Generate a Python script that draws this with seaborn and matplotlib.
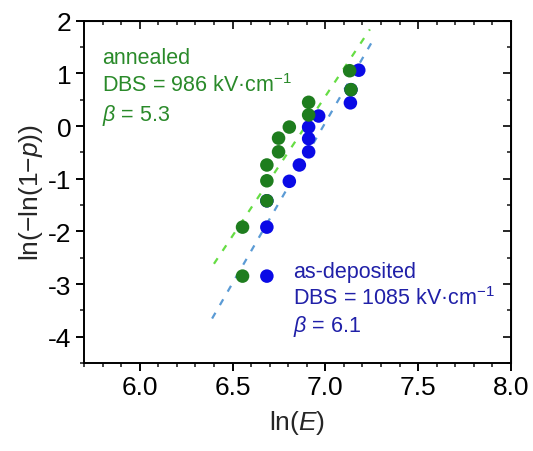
import numpy as np
import pandas as pd
import matplotlib
matplotlib.use("Agg")
import matplotlib.pyplot as plt
import seaborn as sns

# ---- data ----
ann_lnE = [6.554, 6.554, 6.685, 6.685, 6.685, 6.748, 6.748, 6.806, 6.910, 6.910, 7.138, 7.131]
ann_y   = [-2.85, -1.92, -1.42, -1.04, -0.74, -0.49, -0.23, -0.02, 0.21, 0.45, 0.69, 1.05]
dep_lnE = [6.685, 6.685, 6.685, 6.806, 6.860, 6.910, 6.910, 6.910, 6.964, 7.135, 7.138, 7.180]
dep_y   = [-2.85, -1.92, -1.42, -1.05, -0.74, -0.49, -0.24, -0.02, 0.19, 0.44, 0.69, 1.06]

ann_beta, ann_dbs = 5.3, 986
dep_beta, dep_dbs = 6.1, 1085
ann_fit_x = [6.40, 7.24]
dep_fit_x = [6.39, 7.26]

xticks = [6.0, 6.5, 7.0, 7.5, 8.0]
yticks = [-4, -3, -2, -1, 0, 1, 2]

sns.set_style("ticks")
plt.rcParams['font.family'] = ['Liberation Sans', 'DejaVu Sans']
plt.rcParams['mathtext.fontset'] = 'custom'
plt.rcParams['mathtext.rm'] = 'Liberation Sans'
plt.rcParams['mathtext.it'] = 'Liberation Sans:italic'
plt.rcParams['mathtext.bf'] = 'Liberation Sans:bold'

fig = plt.figure(figsize=(5.33, 4.52), dpi=100)
ax = fig.add_axes([0.1576, 0.1947, 0.8011, 0.7573])

green_pt = "#1e7d1e"
blue_pt = "#0a0ae6"
green_ln = "#66dd44"
blue_ln = "#5b9bd5"
green_txt = "#2a8a2a"
blue_txt = "#2020a8"

fa = pd.DataFrame({"x": ann_fit_x})
fa["y"] = ann_beta * (fa["x"] - np.log(ann_dbs))
fd = pd.DataFrame({"x": dep_fit_x})
fd["y"] = dep_beta * (fd["x"] - np.log(dep_dbs))

sns.lineplot(data=fd, x="x", y="y", ax=ax, color=blue_ln, lw=1.6,
             linestyle=(0, (3, 4)), zorder=1)
sns.lineplot(data=fa, x="x", y="y", ax=ax, color=green_ln, lw=1.6,
             linestyle=(0, (3, 4)), zorder=1)

dd = pd.DataFrame({"x": dep_lnE, "y": dep_y})
da = pd.DataFrame({"x": ann_lnE, "y": ann_y})
sns.scatterplot(data=dd, x="x", y="y", ax=ax, color=blue_pt, s=95,
                edgecolor="none", zorder=3)
sns.scatterplot(data=da, x="x", y="y", ax=ax, color=green_pt, s=95,
                edgecolor="none", zorder=4)

ax.set_xlim(5.7, 8.0)
ax.set_ylim(-4.5, 2.0)
ax.set_xticks(xticks)
ax.set_xticklabels([f"{v:.1f}" for v in xticks])
ax.set_yticks(yticks)
ax.set_yticklabels([str(v) for v in yticks])
ax.set_xticks(np.arange(5.7, 8.001, 0.1), minor=True)
ax.set_yticks(np.arange(-4.5, 2.001, 0.5), minor=True)

for sp in ax.spines.values():
    sp.set_linewidth(1.4)
    sp.set_color("black")
ax.tick_params(which='major', direction='out', length=6, width=1.4,
               labelsize=19, colors='black', pad=3)
ax.tick_params(which='minor', direction='out', length=3, width=1.2)

# mirrored inward ticks on top and right
top = ax.secondary_xaxis('top')
top.set_xticks(xticks)
top.set_xticks(np.arange(5.7, 8.001, 0.1), minor=True)
top.tick_params(which='major', direction='in', length=6, width=1.4, labeltop=False)
top.tick_params(which='minor', direction='in', length=3, width=1.2)
right = ax.secondary_yaxis('right')
right.set_yticks(yticks)
right.set_yticks(np.arange(-4.5, 2.001, 0.5), minor=True)
right.tick_params(which='major', direction='in', length=6, width=1.4, labelright=False)
right.tick_params(which='minor', direction='in', length=3, width=1.2)

ax.set_xlabel("ln($\\mathit{E}$)", fontsize=19, labelpad=6)
ax.set_ylabel("ln(\u2212ln(1\u2212$\\mathit{p}$))", fontsize=19, labelpad=2)

fs = 15.5
ax.text(0.043, 0.876, "annealed", transform=ax.transAxes, color=green_txt,
        fontsize=fs, va='baseline')
ax.text(0.043, 0.795, "DBS = 986 kV\u00b7cm$^{\u22121}$", transform=ax.transAxes,
        color=green_txt, fontsize=fs, va='baseline')
ax.text(0.043, 0.710, "$\\mathit{\\beta}$ = 5.3", transform=ax.transAxes,
        color=green_txt, fontsize=fs, va='baseline')

ax.text(0.489, 0.251, "as-deposited", transform=ax.transAxes, color=blue_txt,
        fontsize=fs, va='baseline')
ax.text(0.489, 0.172, "DBS = 1085 kV\u00b7cm$^{\u22121}$", transform=ax.transAxes,
        color=blue_txt, fontsize=fs, va='baseline')
ax.text(0.489, 0.093, "$\\mathit{\\beta}$ = 6.1", transform=ax.transAxes,
        color=blue_txt, fontsize=fs, va='baseline')

fig.savefig("out.png", dpi=100)
